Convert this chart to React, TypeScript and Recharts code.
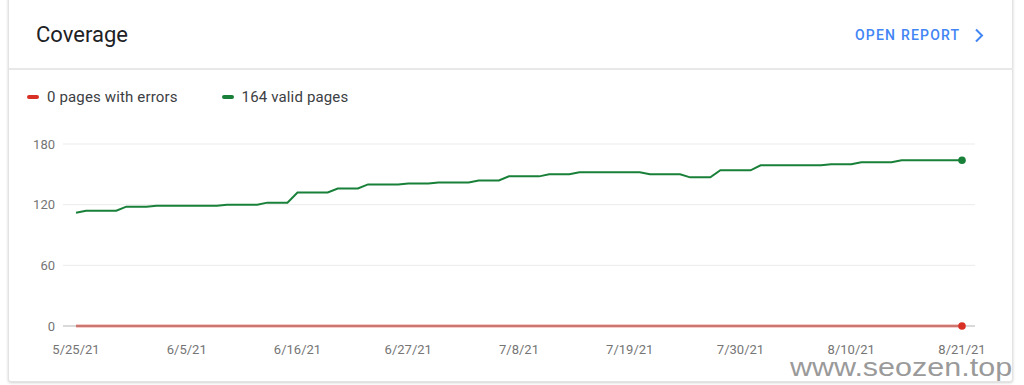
import React from 'react';
import { LineChart, Line, XAxis, YAxis, CartesianGrid } from 'recharts';

const startDate = { year: 2021, month: 5, day: 25 };
const tickLabels = ['5/25/21', '6/5/21', '6/16/21', '6/27/21', '7/8/21', '7/19/21', '7/30/21', '8/10/21', '8/21/21'];
const yTicks = [0, 60, 120, 180];

const validPages = [
  112,
  114, 114, 114, 114,
  118, 118, 118,
  119, 119, 119, 119, 119, 119, 119,
  120, 120, 120, 120,
  122, 122, 122,
  132, 132, 132, 132,
  136, 136, 136,
  140, 140, 140, 140,
  141, 141, 141,
  142, 142, 142, 142,
  144, 144, 144,
  148, 148, 148, 148,
  150, 150, 150,
  152, 152, 152, 152, 152, 152, 152,
  150, 150, 150, 150,
  147, 147, 147,
  154, 154, 154, 154,
  159, 159, 159, 159, 159, 159, 159,
  160, 160, 160,
  162, 162, 162, 162,
  164, 164, 164, 164, 164, 164, 164,
];
const errorPages = validPages.map(() => 0);

const dates = validPages.map((_, i) => {
  const d = new Date(startDate.year, startDate.month - 1, startDate.day + i);
  return `${d.getMonth() + 1}/${d.getDate()}/${String(d.getFullYear()).slice(2)}`;
});

const data = dates.map((date, i) => ({ date, valid: validPages[i], errors: errorPages[i] }));

const GREEN = '#188038';
const RED = '#d93025';

const lastDot = (color: string) => (props: any) => {
  const { cx, cy, index } = props;
  if (index !== data.length - 1) return <g key={`d${index}`} />;
  return <circle key={`d${index}`} cx={cx} cy={cy} r={3.8} fill={color} stroke="none" />;
};

export default function App() {
  return (
    <div style={{ position: 'absolute', left: 0, top: 0, width: 1024, height: 385, overflow: 'hidden', background: '#fff', fontFamily: 'Roboto, sans-serif' }}>
      <div style={{ position: 'absolute', left: 8, top: -6, width: 1005, height: 388, background: '#fff', border: '1px solid #e3e3e3', borderRadius: 3, boxShadow: '0 1px 3px rgba(0,0,0,0.18)', boxSizing: 'border-box' }} />
      <div style={{ position: 'absolute', left: 36, top: 22, fontSize: 22, color: '#202124', lineHeight: '26px' }}>Coverage</div>
      <div style={{ position: 'absolute', left: 855, top: 27, fontSize: 14, fontWeight: 500, letterSpacing: 1.2, color: '#4285f4', lineHeight: '17px' }}>OPEN REPORT</div>
      <svg style={{ position: 'absolute', left: 972, top: 28 }} width={16} height={16}>
        <polyline points="4,1.5 10,7.5 4,13.5" fill="none" stroke="#4285f4" strokeWidth={2} />
      </svg>
      <div style={{ position: 'absolute', left: 9, top: 68, width: 1004, height: 2, background: '#e8e8e8' }} />
      <div style={{ position: 'absolute', left: 27, top: 88, display: 'flex', alignItems: 'center', fontSize: 15, letterSpacing: 0.15, color: '#3c4043', lineHeight: '18px' }}>
        <span style={{ display: 'inline-block', width: 12, height: 4, borderRadius: 2, background: RED, marginRight: 8 }} />
        <span>{`${errorPages[errorPages.length - 1]} pages with errors`}</span>
        <span style={{ display: 'inline-block', width: 12, height: 4, borderRadius: 2, background: GREEN, marginLeft: 44, marginRight: 8 }} />
        <span>{`${validPages[validPages.length - 1]} valid pages`}</span>
      </div>
      <div style={{ position: 'absolute', left: 0, top: 120 }}>
        <LineChart width={1024} height={260} data={data} margin={{ top: 24, right: 49, bottom: 24, left: 8 }}>
          <CartesianGrid horizontal vertical={false} stroke="#ebebeb" strokeWidth={1} />
          <XAxis
            dataKey="date"
            ticks={tickLabels}
            interval={0}
            tickLine={false}
            axisLine={{ stroke: '#bdbdbd' }}
            padding={{ left: 13, right: 13 }}
            tick={{ fill: '#757575', fontSize: 13, fontFamily: 'Roboto, sans-serif' }}
            tickMargin={13}
            height={30}
          />
          <YAxis
            domain={[0, 180]}
            ticks={yTicks}
            width={55}
            axisLine={false}
            tickLine={false}
            tick={{ fill: '#757575', fontSize: 13, fontFamily: 'Roboto, sans-serif' }}
          />
          <Line type="linear" dataKey="errors" stroke={RED} strokeWidth={2.5} dot={lastDot(RED)} activeDot={false} isAnimationActive={false} />
          <Line type="linear" dataKey="valid" stroke={GREEN} strokeWidth={2} dot={lastDot(GREEN)} activeDot={false} isAnimationActive={false} />
        </LineChart>
      </div>
      <div style={{ position: 'absolute', left: 790, top: 352, fontSize: 25, color: '#9a9a9a', fontFamily: 'Liberation Sans, sans-serif', transform: 'scaleX(1.22)', transformOrigin: 'left top', lineHeight: '30px', whiteSpace: 'nowrap' }}>www.seozen.top</div>
    </div>
  );
}
